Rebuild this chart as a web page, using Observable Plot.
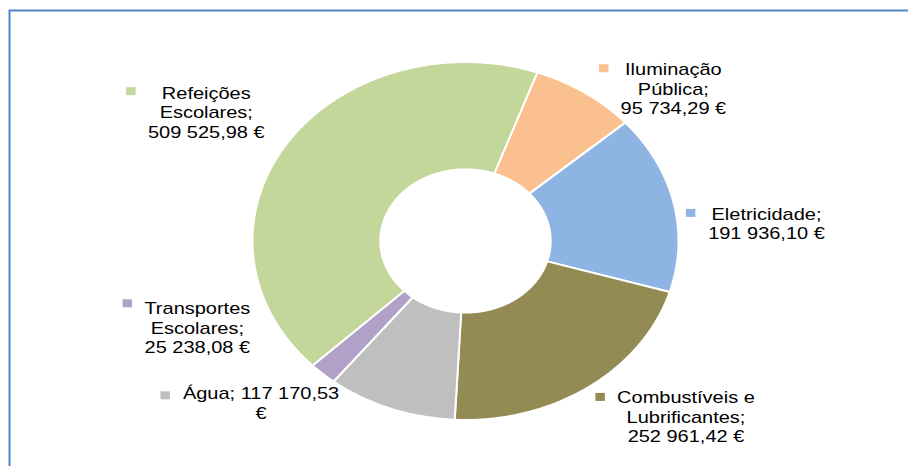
<!DOCTYPE html>
<html>
<head>
<meta charset="utf-8">
<script src="https://cdn.jsdelivr.net/npm/d3@7"></script>
<script src="https://cdn.jsdelivr.net/npm/@observablehq/plot@0.6"></script>
<style>
  html, body { margin: 0; padding: 0; background: #fff; overflow: hidden; }
</style>
</head>
<body>
<div id="chart"></div>
<script>
// ---- data (clockwise from the first slice) ----
const categories = [
  "Iluminação Pública",
  "Eletricidade",
  "Combustíveis e Lubrificantes",
  "Água",
  "Transportes Escolares",
  "Refeições Escolares"
];
const values = [95734.29, 191936.10, 252961.42, 117170.53, 25238.08, 509525.98];
const colors = ["#fac090", "#8db4e2", "#948a54", "#bfbfbf", "#b1a0c7", "#c4d79b"];
const labelTexts = [
  "Iluminação\nPública;\n95 734,29 €",
  "Eletricidade;\n191 936,10 €",
  "Combustíveis e\nLubrificantes;\n252 961,42 €",
  "Água; 117 170,53\n€",
  "Transportes\nEscolares;\n25 238,08 €",
  "Refeições\nEscolares;\n509 525,98 €"
];

// ---- layout (donut units: outer radius = 1) ----
const W = 908, H = 466;
const startDeg = 19.7;
const innerRatio = 0.4;
const stretchX = 1.19;   // horizontal stretch of the original picture
// label block anchor (centre x, last baseline) and legend key position
const labelLayout = [
  {tx: 0.976,  ty: 0.708,  mx: 0.649,  my: 0.965},
  {tx: 1.413,  ty: 0.011,  mx: 1.057,  my: 0.157},
  {tx: 1.035,  ty: -1.124, mx: 0.632,  my: -0.871},
  {tx: -0.960, ty: -0.992, mx: -1.410, my: -0.862},
  {tx: -1.259, ty: -0.626, mx: -1.588, my: -0.348},
  {tx: -1.217, ty: 0.576,  mx: -1.571, my: 0.837}
];

// ---- geometry from data ----
const a0 = startDeg * Math.PI / 180;
const arcs = d3.pie().sort(null).startAngle(a0).endAngle(a0 + 2 * Math.PI)(values);
const ring = [];
arcs.forEach((a, i) => {
  const name = categories[i];
  const n = Math.max(2, Math.ceil((a.endAngle - a.startAngle) / (Math.PI / 360)));
  const pts = [];
  for (let k = 0; k <= n; k++) {
    const t = a.startAngle + (a.endAngle - a.startAngle) * k / n;
    pts.push([Math.sin(t), Math.cos(t)]);
  }
  for (let k = n; k >= 0; k--) {
    const t = a.startAngle + (a.endAngle - a.startAngle) * k / n;
    pts.push([innerRatio * Math.sin(t), innerRatio * Math.cos(t)]);
  }
  pts.push(pts[0]);
  pts.forEach(([x, y]) => ring.push({name, x, y}));
});

const labels = categories.map((name, i) => ({name, text: labelTexts[i], ...labelLayout[i]}));

const chart = Plot.plot({
  width: W,
  height: H,
  margin: 0,
  x: {domain: [-1, 1], range: [252, 678], axis: null},
  y: {domain: [-1, 1], range: [419.5, 61.5], axis: null},
  color: {domain: categories, range: colors},
  style: {
    background: "#fff",
    overflow: "hidden",
    fontFamily: "'Liberation Sans', Arial, sans-serif"
  },
  marks: [
    Plot.frame({stroke: "#4f83c6", strokeWidth: 2, insetLeft: 9, insetTop: 10, insetRight: -20, insetBottom: -20}),
    Plot.line(ring, {x: "x", y: "y", z: "name", fill: "name", stroke: "#fff", strokeWidth: 2, curve: "linear"}),
    Plot.dot(labels, {x: "mx", y: "my", symbol: "square", r: 4.5, fill: "name", stroke: null}),
    Plot.text(labels, {
      x: "tx", y: "ty", text: "text",
      textAnchor: "middle", lineAnchor: "bottom", lineHeight: 1.16,
      fontSize: 16.8, fill: "#000"
    })
  ]
});

// stretch glyphs horizontally like the reference
d3.select(chart).selectAll('g[aria-label="text"] > text, g[aria-label="dot"] > path').each(function () {
  const t = this.getAttribute("transform");
  if (t) {
    this.setAttribute("transform", `${t} scale(${stretchX},1)`);
  } else {
    const x = +this.getAttribute("x") || 0, y = +this.getAttribute("y") || 0;
    this.removeAttribute("x"); this.removeAttribute("y");
    this.setAttribute("transform", `translate(${x},${y}) scale(${stretchX},1)`);
  }
});

document.getElementById("chart").appendChild(chart);
</script>
</body>
</html>
